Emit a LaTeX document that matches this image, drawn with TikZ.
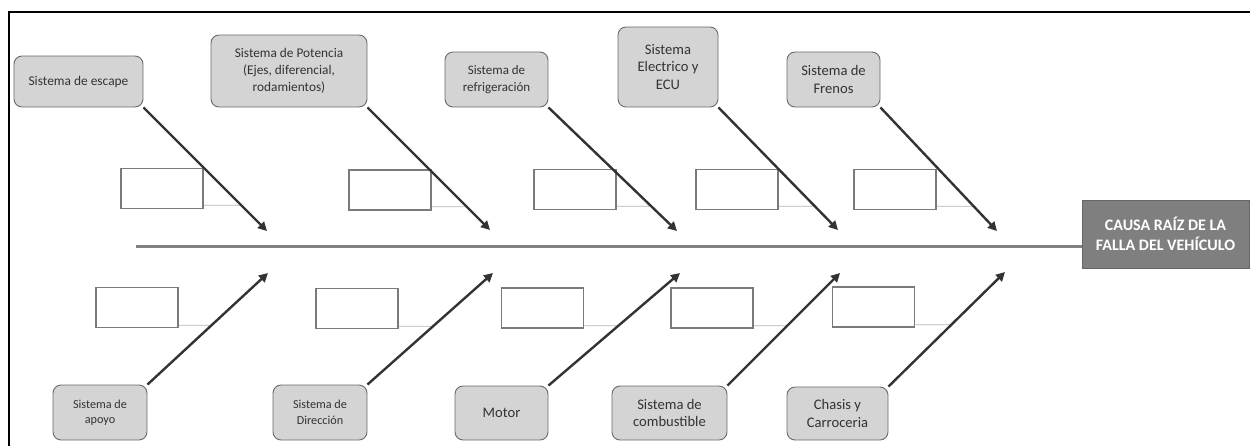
\documentclass[tikz,border=0pt]{standalone}
\usepackage{fontspec}
\setmainfont{Carlito}
\usetikzlibrary{arrows.meta}
\definecolor{causefill}{HTML}{D4D4D4}
\definecolor{causeline}{HTML}{6A6A6A}
\definecolor{txt}{HTML}{333333}
\definecolor{rootfill}{HTML}{7F7F7F}
\definecolor{boxline}{HTML}{7A7A7A}
\definecolor{arrowcol}{HTML}{333333}
\definecolor{spinecol}{HTML}{808080}
\definecolor{thincol}{HTML}{B4B4B4}
\begin{document}
\begin{tikzpicture}[x=1pt,y=-1pt,
  cause/.style={draw=causeline,line width=0.9pt,fill=causefill,rounded corners=8pt,
    inner sep=0pt,align=center,text=txt},
  emptybox/.style={draw=boxline,line width=1.6pt,fill=white,minimum width=82pt,minimum height=40pt,inner sep=0pt},
  bone/.style={draw=arrowcol,line width=2.4pt,-{Triangle[length=9pt,width=9pt]}},
  twig/.style={draw=thincol,line width=0.8pt},
  rootbox/.style={draw=rootfill!80!black,line width=0.8pt,fill=rootfill,text=white,inner sep=0pt,
    align=center,minimum width=167pt,minimum height=68pt,font=\fontsize{16}{19.5}\selectfont\bfseries}]
\useasboundingbox (0,0) rectangle (1250,445);
\draw[black,line width=2pt] (1250,12) -- (9,12) -- (9,446);

% root
\node[rootbox] (root) at (1165.5,234) {CAUSA RAÍZ DE LA\\FALLA DEL VEHÍCULO};
\coordinate (spine0) at (136,246.5);
\draw[spinecol,line width=2.2pt] (spine0) -- (spine0 -| root.west);

% upper causes
\node[cause,minimum width=129pt,minimum height=51pt,font=\fontsize{13.4}{16}\selectfont] (U1) at (78.5,81.5) {Sistema de escape};
\node[cause,minimum width=156pt,minimum height=72pt,font=\fontsize{13.3}{17}\selectfont] (U2) at (289,71) {Sistema de Potencia\\(Ejes, diferencial,\\rodamientos)};
\node[cause,minimum width=103pt,minimum height=55pt,font=\fontsize{13}{17}\selectfont] (U3) at (496.5,79.5) {Sistema de\\refrigeración};
\node[cause,minimum width=100pt,minimum height=80pt,font=\fontsize{14.6}{17.5}\selectfont] (U4) at (668,67) {Sistema\\Electrico y\\ECU};
\node[cause,minimum width=93pt,minimum height=55pt,font=\fontsize{14.6}{17.5}\selectfont] (U5) at (833.5,79.5) {Sistema de\\Frenos};

\coordinate (E1) at (267,231);
\coordinate (E2) at (490,230);
\coordinate (E3) at (677,231);
\coordinate (E4) at (838,230);
\coordinate (E5) at (997,231);

\node[emptybox] (B1) at (162,188.5) {};
\node[emptybox] (B2) at (390,190) {};
\node[emptybox] (B3) at (575,189.5) {};
\node[emptybox] (B4) at (737,189.5) {};
\node[emptybox] (B5) at (895,189.5) {};

\foreach \i in {1,...,5}{
  \coordinate (T\i) at ([yshift=4pt]B\i.south east);
  \draw[twig] (T\i) -- (intersection of T\i--{[xshift=100pt]T\i} and U\i.south east--E\i);
  \draw[bone] (U\i.south east) -- (E\i);
}

% lower causes
\node[cause,minimum width=94pt,minimum height=55pt,font=\fontsize{12.2}{15.5}\selectfont] (L1) at (100,412.5) {Sistema de\\apoyo};
\node[cause,minimum width=94pt,minimum height=55pt,font=\fontsize{12.2}{15.5}\selectfont] (L2) at (320,412.5) {Sistema de\\Dirección};
\node[cause,minimum width=93pt,minimum height=54pt,font=\fontsize{14.6}{17.5}\selectfont] (L3) at (501.5,413) {Motor};
\node[cause,minimum width=115pt,minimum height=54pt,font=\fontsize{14.6}{17.5}\selectfont] (L4) at (669.5,413) {Sistema de\\combustible};
\node[cause,minimum width=101pt,minimum height=53pt,font=\fontsize{14.6}{17.5}\selectfont] (L5) at (837.5,413.5) {Chasis y\\Carroceria};

\coordinate (F1) at (268,273);
\coordinate (F2) at (493,273);
\coordinate (F3) at (680,273);
\coordinate (F4) at (840,273);
\coordinate (F5) at (1005,272);

\node[emptybox] (C1) at (137,307.5) {};
\node[emptybox] (C2) at (357,308.5) {};
\node[emptybox] (C3) at (542.5,308) {};
\node[emptybox] (C4) at (712,308) {};
\node[emptybox] (C5) at (873.5,307) {};

\foreach \i in {1,...,5}{
  \coordinate (S\i) at ([yshift=3pt]C\i.south east);
  \draw[twig] (S\i) -- (intersection of S\i--{[xshift=100pt]S\i} and L\i.north east--F\i);
  \draw[bone] (L\i.north east) -- (F\i);
}
\end{tikzpicture}
\end{document}
